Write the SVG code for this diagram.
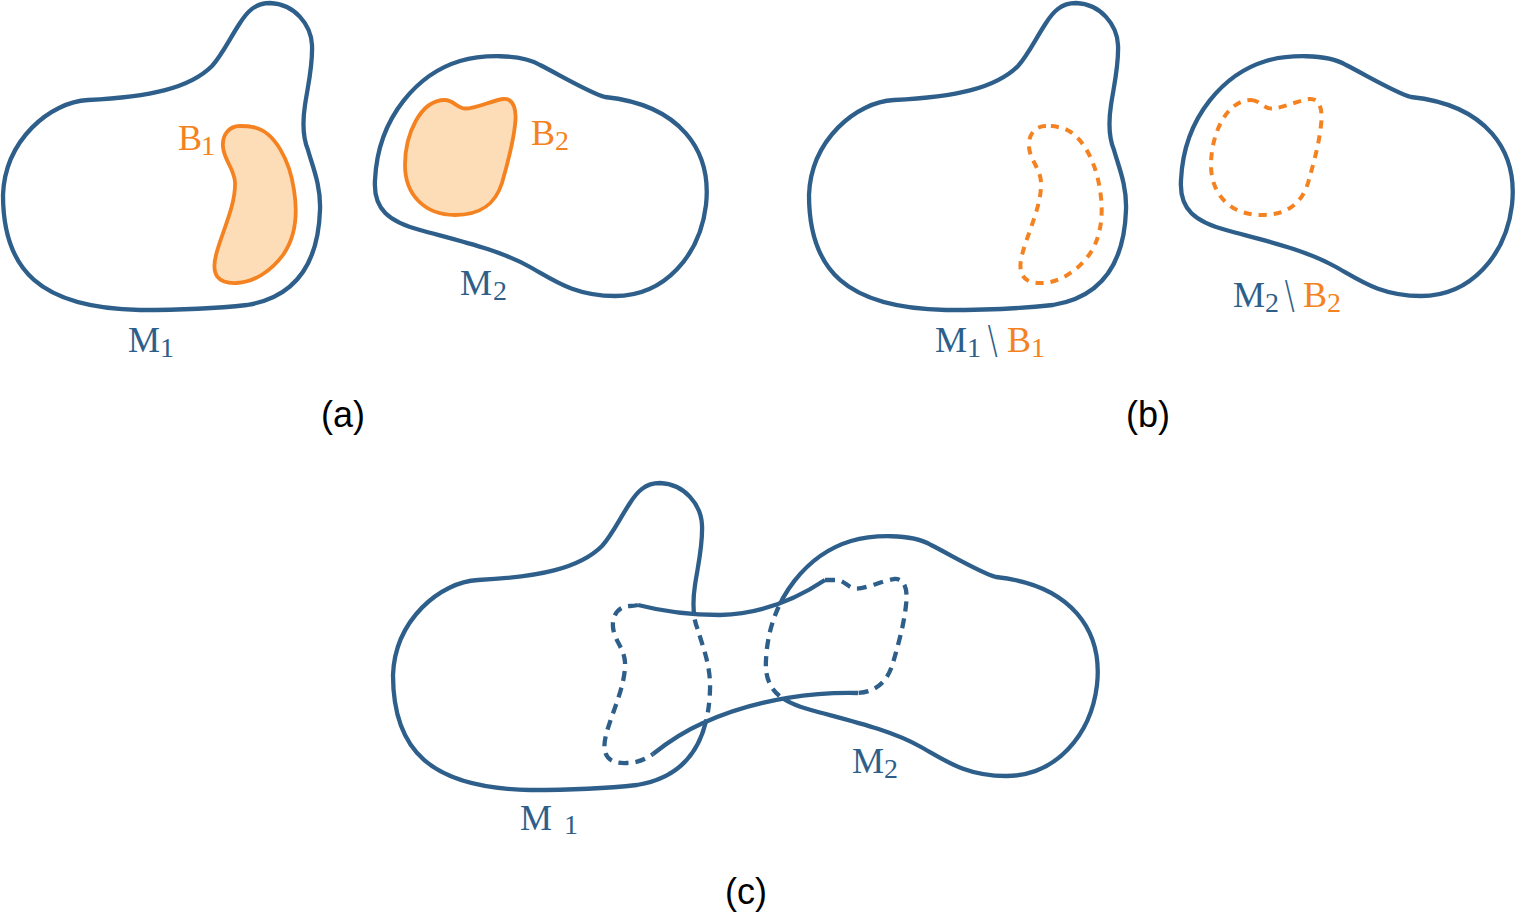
<svg xmlns="http://www.w3.org/2000/svg" xmlns:xlink="http://www.w3.org/1999/xlink" width="1516" height="914" viewBox="0 0 1516 914">
<style>
.m{fill:none;stroke:#2E5F8B;stroke-width:4.3;stroke-linejoin:round}
.md{fill:none;stroke:#2E5F8B;stroke-width:4.3;stroke-dasharray:10 7}
.b{fill:#FDDDB8;stroke:#F58220;stroke-width:3.8}
.bd{fill:none;stroke:#F58220;stroke-width:4;stroke-dasharray:8 7}
.lb{font-family:"Liberation Serif",serif;font-size:36px;fill:#2E5F8B}
.lo{font-family:"Liberation Serif",serif;font-size:36px;fill:#F58220}
.sub{font-size:28px}
.bs{font-size:48px}
.cap{font-family:"Liberation Sans",sans-serif;font-size:36px;fill:#000;text-anchor:middle}
</style>
<defs>
<path id="m1" d="M 88,100 C 50,102 5,140 3,195 C 3,270 40,308 140,310 C 180,310 220,308 247,305 C 290,298 318,270 320,210 C 321,185 312,165 308,150 C 303,138 302,125 305,105 C 308,85 313,65 312,45 C 311,25 295,4 270,3 C 255,3 247,12 240,23 C 230,38 222,55 212,66 C 190,88 150,97 88,100 Z"/>
<path id="m2" d="M 605,97 C 590,93 560,75 540,65 C 520,53 480,55 460,61 C 420,73 378,115 375,180 C 373,210 390,222 420,230 C 460,241 500,250 530,267 C 555,281 575,296 615,296 C 665,296 700,255 706,205 C 712,150 680,105 605,97 Z"/>
<path id="b1" d="M 240,126 C 228,126 222,136 223,147 C 224,160 234,168 235,182 C 236,205 222,232 216,255 C 211,275 218,284 237,283 C 255,282 272,270 283,255 C 295,238 298,215 294,190 C 290,162 275,130 252,127 C 248,126 244,126 240,126 Z"/>
<path id="b2" d="M 445,100 C 452,100 456,106 462,108 C 470,111 490,101 503,99 C 514,98 517,110 515,125 C 513,145 507,165 502,183 C 495,205 480,215 455,215 C 425,215 405,195 405,165 C 405,135 420,100 445,100 Z"/>
<clipPath id="inT">
<path d="M 638,605 C 665,612 690,615 720,615 C 760,614 795,600 825,580 L 836,580 C 843,580 847,586 853,588 C 861,591 881,581 894,579 C 905,578 908,590 906,605 C 904,625 898,645 893,663 C 887,683 875,692 858,693 C 820,692 760,697 703,723 C 685,731 668,742 653,754 C 646,759 637,763 627,763 C 608,764 601,755 606,735 C 612,712 626,685 625,662 C 624,648 614,640 613,627 C 612,616 618,606 630,606 Z"/>
</clipPath>
<clipPath id="outT">
<path clip-rule="evenodd" d="M 0,0 H 1516 V 914 H 0 Z M 638,605 C 665,612 690,615 720,615 C 760,614 795,600 825,580 L 836,580 C 843,580 847,586 853,588 C 861,591 881,581 894,579 C 905,578 908,590 906,605 C 904,625 898,645 893,663 C 887,683 875,692 858,693 C 820,692 760,697 703,723 C 685,731 668,742 653,754 C 646,759 637,763 627,763 C 608,764 601,755 606,735 C 612,712 626,685 625,662 C 624,648 614,640 613,627 C 612,616 618,606 630,606 Z"/>
</clipPath>
</defs>

<g id="panel-a">
<g id="a-M1"><use xlink:href="#m1" href="#m1" class="m"/></g>
<g id="a-B1"><use xlink:href="#b1" href="#b1" class="b"/></g>
<g id="a-M2"><use xlink:href="#m2" href="#m2" class="m"/></g>
<g id="a-B2"><use xlink:href="#b2" href="#b2" class="b"/></g>
<text class="lb" x="128" y="352">M</text><text class="lb sub" x="160" y="357">1</text>
<text class="lo" x="178" y="150">B</text><text class="lo sub" x="201" y="155">1</text>
<text class="lb" x="460" y="295">M</text><text class="lb sub" x="493" y="300">2</text>
<text class="lo" x="531" y="145">B</text><text class="lo sub" x="555" y="150">2</text>
<text class="cap" x="343" y="427">(a)</text>
</g>

<g id="panel-b">
<g id="b-M1"><use xlink:href="#m1" href="#m1" class="m" transform="translate(806,0)"/></g>
<g id="b-B1"><use xlink:href="#b1" href="#b1" class="bd" transform="translate(806,0)"/></g>
<g id="b-M2"><use xlink:href="#m2" href="#m2" class="m" transform="translate(806,0)"/></g>
<g id="b-B2"><use xlink:href="#b2" href="#b2" class="bd" transform="translate(806,0)"/></g>
<text class="lb" x="935" y="352">M</text><text class="lb sub" x="967" y="357">1</text>
<text class="lb bs" transform="translate(988,357) scale(0.7,1)">\</text>
<text class="lo" x="1007" y="352">B</text><text class="lo sub" x="1031" y="357">1</text>
<text class="lb" x="1233" y="307">M</text><text class="lb sub" x="1265" y="312">2</text>
<text class="lb bs" transform="translate(1285,312) scale(0.7,1)">\</text>
<text class="lo" x="1303" y="307">B</text><text class="lo sub" x="1327" y="312">2</text>
<text class="cap" x="1148" y="427">(b)</text>
</g>

<g id="panel-c">
<g id="c-M1">
<g clip-path="url(#outT)"><use xlink:href="#m1" href="#m1" class="m" transform="translate(390,480)"/></g>
<g clip-path="url(#inT)"><use xlink:href="#m1" href="#m1" class="md" transform="translate(390,480)"/></g>
</g>
<g id="c-M2">
<g clip-path="url(#outT)"><use xlink:href="#m2" href="#m2" class="m" transform="translate(391,480)"/></g>
<g clip-path="url(#inT)"><use xlink:href="#m2" href="#m2" class="md" transform="translate(391,480)"/></g>
</g>
<g id="c-tube">
<path class="m" d="M 638,605 C 665,612 690,615 720,615 C 760,614 795,600 825,580"/>
<path class="m" d="M 858,693 C 820,692 760,697 703,723 C 685,731 668,742 653,754"/>
<path class="md" d="M 638,605 C 634,606 632,606 630,606 C 618,606 612,616 613,627 C 614,640 624,648 625,662 C 626,685 612,712 606,735 C 601,755 608,764 627,763 C 637,763 646,759 653,754"/>
<path class="md" d="M 825,580 L 836,580 C 843,580 847,586 853,588 C 861,591 881,581 894,579 C 905,578 908,590 906,605 C 904,625 898,645 893,663 C 887,683 875,692 858,693"/>
</g>
<text class="lb" x="520" y="830">M</text><text class="lb sub" x="564" y="834">1</text>
<text class="lb" x="852" y="773">M</text><text class="lb sub" x="884" y="778">2</text>
<text class="cap" x="746" y="904">(c)</text>
</g>
</svg>
